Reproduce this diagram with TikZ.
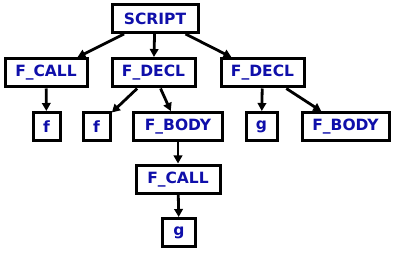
\documentclass[tikz,border=0pt]{standalone}
\usepackage{fontspec}
\setmainfont{DejaVu Sans}
\usetikzlibrary{arrows.meta}
\definecolor{txtblue}{RGB}{15,15,170}
\begin{document}
\begin{tikzpicture}[x=1pt,y=-1pt,
  box/.style={draw=black,line width=3pt,fill=white,text=txtblue,font=\fontsize{15.5}{18}\selectfont\bfseries,
    minimum height=28pt,inner sep=0pt,anchor=center},
  edge/.style={line width=2.8pt,-{Triangle[length=8pt,width=8.5pt]},shorten >=0.5pt}]
\useasboundingbox (0,0) rectangle (396,253);
\node[box,minimum width=86pt] (script) at (155,18.5) {SCRIPT};
\node[box,minimum width=82pt] (fcall1) at (46,73) {F\_CALL};
\node[box,minimum width=83pt] (fdecl1) at (153.5,73) {F\_DECL};
\node[box,minimum width=83pt] (fdecl2) at (262.5,73) {F\_DECL};
\node[box,minimum width=27pt] (f1) at (46.5,127) {f};
\node[box,minimum width=27pt] (f2) at (96.5,127) {f};
\node[box,minimum width=89pt] (fbody1) at (178,127) {F\_BODY};
\node[box,minimum width=31pt] (g1) at (261.5,127) {g};
\node[box,minimum width=87pt] (fbody2) at (345.5,127) {F\_BODY};
\node[box,minimum width=84pt] (fcall2) at (178,179.5) {F\_CALL};
\node[box,minimum width=33pt] (g2) at (179,233) {g};
\draw[edge] (script) -- (fcall1);
\draw[edge] (script) -- (fdecl1);
\draw[edge] (script) -- (fdecl2);
\draw[edge] (fcall1) -- (f1);
\draw[edge] (fdecl1) -- (f2);
\draw[edge] (fdecl1) -- (fbody1);
\draw[edge] (fdecl2) -- (g1);
\draw[edge] (fdecl2) -- (fbody2);
\draw[edge] (fbody1) -- (fcall2);
\draw[edge] (fcall2) -- (g2);
\end{tikzpicture}
\end{document}
